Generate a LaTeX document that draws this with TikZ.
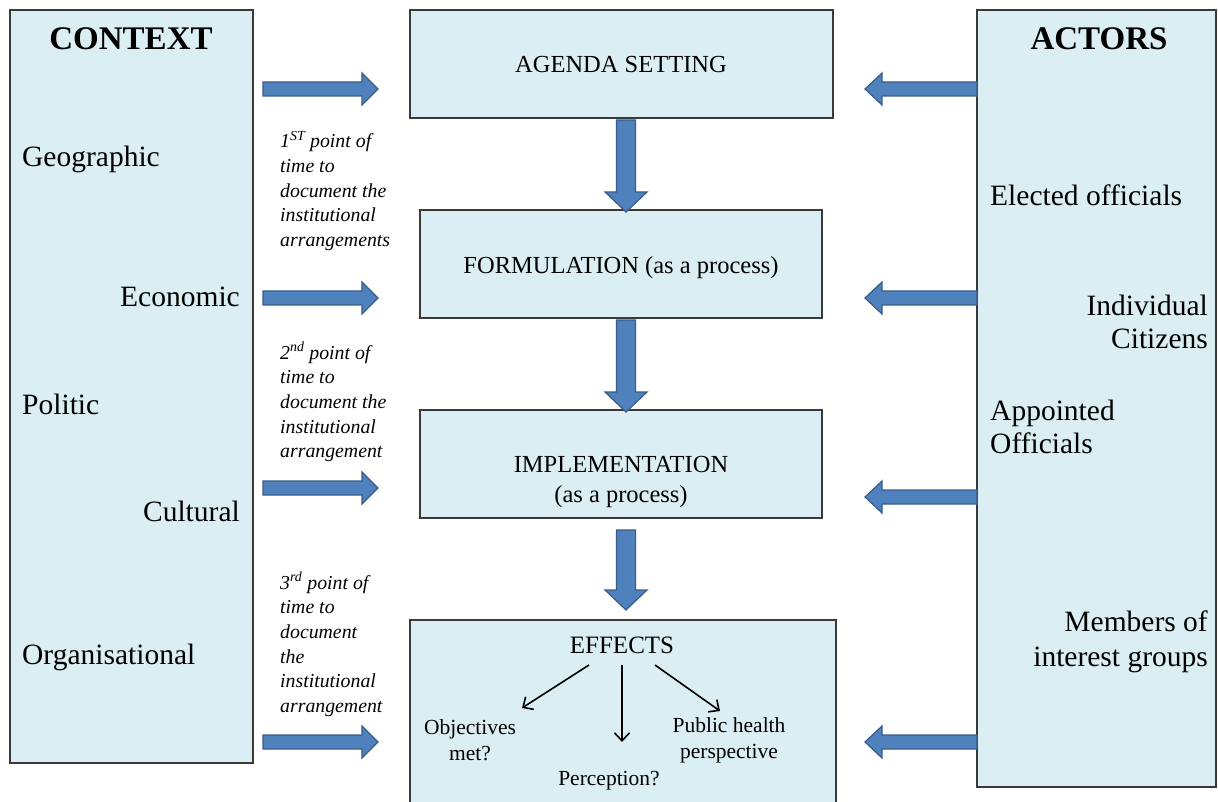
\documentclass[tikz,border=0pt]{standalone}
\usepackage{fontspec}
\setmainfont{Liberation Serif}
\usetikzlibrary{arrows.meta}
\definecolor{boxfill}{HTML}{DAEEF3}
\definecolor{boxline}{HTML}{3A3A3A}
\definecolor{arrowfill}{HTML}{4F81BD}
\definecolor{arrowline}{HTML}{385D8A}
\tikzset{
  panel/.style={draw=boxline, line width=1.1pt, fill=boxfill, inner sep=0pt},
  blockarrow/.style={fill=arrowfill, draw=arrowline, line width=1.2pt, line join=miter},
  sidetext/.style={font=\fontsize{29.5}{33}\selectfont, inner sep=0pt},
  titletext/.style={font=\fontsize{33}{38}\selectfont\bfseries, inner sep=0pt},
  stagetext/.style={font=\fontsize{24.5}{30}\selectfont, inner sep=0pt, align=center},
  notetext/.style={font=\fontsize{19.8}{24.6}\selectfont\itshape, inner sep=0pt, align=left},
  effecttext/.style={font=\fontsize{21.5}{26}\selectfont, inner sep=0pt, align=center},
  thinarrow/.style={line width=1.6pt, -{Straight Barb[length=8pt,width=15pt,line width=1.6pt]}}
}
% right-pointing block arrow: tail x, centre y, length
\newcommand\rblockarrow[3]{\draw[blockarrow] (#1,#2+7) -- (#1+#3-16,#2+7) -- (#1+#3-16,#2+16) -- (#1+#3,#2) -- (#1+#3-16,#2-16) -- (#1+#3-16,#2-7) -- (#1,#2-7) -- cycle;}
% left-pointing block arrow: tail x, centre y, length
\newcommand\lblockarrow[3]{\draw[blockarrow] (#1,#2+7) -- (#1-#3+17,#2+7) -- (#1-#3+17,#2+16) -- (#1-#3,#2) -- (#1-#3+17,#2-16) -- (#1-#3+17,#2-7) -- (#1,#2-7) -- cycle;}
% down-pointing block arrow: centre x, top y, length
\newcommand\dblockarrow[3]{\draw[blockarrow] (#1-9.5,#2) -- (#1+9.5,#2) -- (#1+9.5,#2-#3+20) -- (#1+21,#2-#3+20) -- (#1,#2-#3) -- (#1-21,#2-#3+20) -- (#1-9.5,#2-#3+20) -- cycle;}
\begin{document}
\begin{tikzpicture}[x=1pt,y=1pt]
\useasboundingbox (0,0) rectangle (1218,-802);
\fill[white] (0,0) rectangle (1218,-802);

% side panels
\node[panel, minimum width=243pt, minimum height=753pt] (context) at (131.5,-386.5) {};
\node[panel, minimum width=239pt, minimum height=777pt] (actors) at (1096.5,-398.5) {};

% stage boxes
\node[panel, minimum width=423pt, minimum height=108pt] (agenda) at (621.5,-64) {};
\node[panel, minimum width=402pt, minimum height=108pt] (formul) at (621,-264) {};
\node[panel, minimum width=402pt, minimum height=108pt] (implem) at (621,-464) {};
\node[panel, minimum width=426pt, minimum height=184pt] (effects) at (623,-712) {};

% titles
\node[titletext] (ctxtitle) at (131,-39) {CONTEXT};
\node[titletext] (acttitle) at (1099,-39) {ACTORS};

% context items
\node[sidetext, anchor=base west] (geo) at (22,-167) {Geographic};
\node[sidetext, anchor=base east] (eco) at (240,-307) {Economic};
\node[sidetext, anchor=base west] (pol) at (22,-414) {Politic};
\node[sidetext, anchor=base east] (cul) at (240,-521) {Cultural};
\node[sidetext, anchor=base west] (org) at (22,-664) {Organisational};

% actors items
\node[sidetext, anchor=base west] (elected) at (990,-206) {Elected officials};
\node[sidetext, anchor=east, align=right] (indiv) at (1208,-322) {Individual\\Citizens};
\node[sidetext, anchor=west, align=left] (appointed) at (990,-427) {Appointed\\Officials};
\node[sidetext, anchor=east, align=right, font=\fontsize{29.5}{35}\selectfont] (members) at (1208,-642) {Members of\\interest groups};

% stage texts
\node[stagetext] (agendatxt) at (621,-65) {AGENDA SETTING};
\node[stagetext] (formultxt) at (621,-268) {FORMULATION (as a process)};
\node[stagetext] (implemtxt) at (621,-482) {IMPLEMENTATION\\(as a process)};
\node[stagetext, font=\fontsize{25}{30}\selectfont] (effectstxt) at (622,-645) {EFFECTS};

% notes
\node[notetext, anchor=north west] (note1) at (280,-131) {1\textsuperscript{ST} point of\\time to\\document the\\institutional\\arrangements};
\node[notetext, anchor=north west] (note2) at (280,-342) {2\textsuperscript{nd} point of\\time to\\document the\\institutional\\arrangement};
\node[notetext, anchor=north west] (note3) at (280,-572) {3\textsuperscript{rd} point of\\time to\\document\\the\\institutional\\arrangement};

% effect outcomes
\node[effecttext] (objectives) at (470,-740) {Objectives\\met?};
\node[effecttext] (perception) at (609,-781) {Perception?};
\node[effecttext] (publichealth) at (729,-740) {Public health\\perspective};

\coordinate (e1s) at (589,-665);
\coordinate (e1e) at (522,-708);
\coordinate (e2s) at (622,-665);
\coordinate (e2e) at (622,-742);
\coordinate (e3s) at (655,-665);
\coordinate (e3e) at (720,-711);
\draw[thinarrow] (e1s) -- (e1e);
\draw[thinarrow] (e2s) -- (e2e);
\draw[thinarrow] (e3s) -- (e3e);

% block arrows from context
\rblockarrow{263}{-89}{115}
\rblockarrow{263}{-298}{115}
\rblockarrow{263}{-488}{115}
\rblockarrow{263}{-742}{115}

% block arrows from actors
\lblockarrow{977}{-89}{112}
\lblockarrow{977}{-298}{112}
\lblockarrow{977}{-497}{112}
\lblockarrow{977}{-742}{112}

% block arrows between stages
\dblockarrow{626}{-120}{92}
\dblockarrow{626}{-320}{92}
\dblockarrow{626}{-530}{80}

\end{tikzpicture}
\end{document}
